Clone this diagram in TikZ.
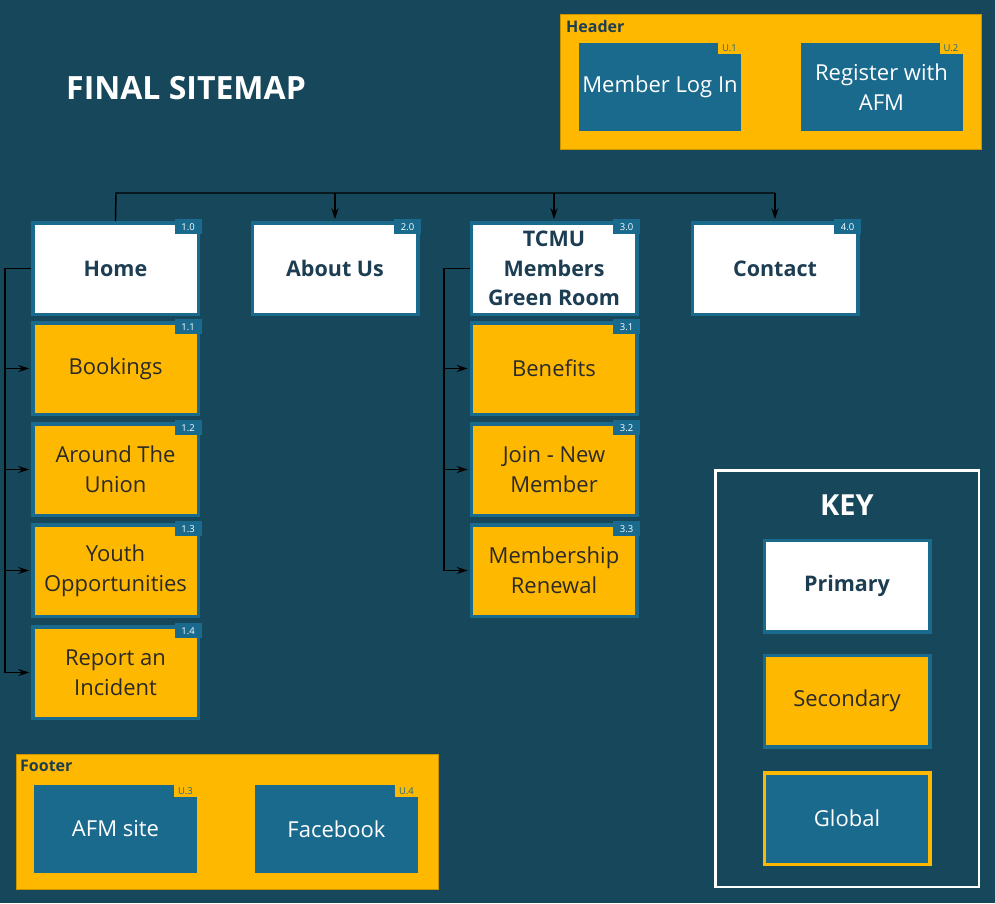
\documentclass[tikz,border=0pt]{standalone}
\usepackage{fontspec}
\setmainfont{Open Sans}
\usetikzlibrary{arrows.meta}
\definecolor{bgc}{HTML}{17475B}
\definecolor{nblue}{HTML}{1A6A8E}
\definecolor{ylw}{HTML}{FFB800}
\definecolor{tdark}{HTML}{1C3D52}
\definecolor{tsec}{HTML}{2A2A2A}
\tikzset{
  x=1pt, y=-1pt,
  basebox/.style={rectangle, inner sep=0pt, align=center, line width=3.5pt,
    minimum width=165.5pt, minimum height=91.5pt},
  prim/.style={basebox, fill=white, draw=nblue, text=tdark,
    font=\fontsize{21.5}{29.5}\selectfont\bfseries},
  sec/.style={basebox, fill=ylw, draw=nblue, text=tsec,
    font=\fontsize{22}{30}\selectfont},
  glob/.style={rectangle, inner sep=0pt, align=center, fill=nblue, text=white,
    minimum width=162pt, minimum height=88pt, font=\fontsize{22}{30}\selectfont},
  tagp/.style={rectangle, fill=nblue, text=white, inner sep=0pt,
    minimum width=27pt, minimum height=15pt, font=\fontsize{9.5}{10}\selectfont, anchor=north east},
  tagg/.style={rectangle, fill=ylw, text=nblue, inner sep=0pt,
    minimum width=23pt, minimum height=12pt, font=\fontsize{9.5}{10}\selectfont, anchor=north east},
  contbox/.style={rectangle, fill=ylw, draw=ylw!80!black, line width=0.8pt, inner sep=0pt},
  conn/.style={draw=black, line width=1.4pt},
  arr/.style={-{Stealth[length=11pt,width=7pt]}},
}
\begin{document}
\begin{tikzpicture}
\fill[bgc] (0,0) rectangle (995,903);
\useasboundingbox (0,0) rectangle (995,903);

% title
\node[anchor=west, inner sep=0pt, text=white, font=\fontsize{32}{38}\selectfont\bfseries] (title) at (66,88) {FINAL SITEMAP};

% header
\node[contbox, minimum width=421pt, minimum height=135pt] (header) at (770.5,81.5) {};
\node[anchor=west, inner sep=0pt, text=tdark, font=\fontsize{16}{19}\selectfont\bfseries] (headerlbl) at (566,26) {Header};
\node[glob] (login) at (660,87) {Member Log In};
\node[tagg] (logint) at ([yshift=1pt]login.north east) {U.1};
\node[glob] (register) at (881.5,87) {Register with\\AFM};
\node[tagg] (registert) at ([yshift=1pt]register.north east) {U.2};

% primary
\node[prim] (home) at (115.5,268.5) {Home};
\node[prim] (about) at (335,268.5) {About Us};
\node[prim] (tcmu) at (554,268.5) {TCMU\\Members\\Green Room};
\node[prim] (contact) at (775,268.5) {Contact};
\node[tagp] (homet) at ([shift={(1.75pt,1.75pt)}]home.north east) {1.0};
\node[tagp] (aboutt) at ([shift={(1.75pt,1.75pt)}]about.north east) {2.0};
\node[tagp] (tcmut) at ([shift={(1.75pt,1.75pt)}]tcmu.north east) {3.0};
\node[tagp] (contactt) at ([shift={(1.75pt,1.75pt)}]contact.north east) {4.0};

% secondary under home
\node[sec] (book) at (115.5,368.5) {Bookings};
\node[sec] (around) at (115.5,469.5) {Around The\\Union};
\node[sec] (youth) at (115.5,570.5) {Youth\\Opportunities};
\node[sec] (report) at (115.5,672.5) {Report an\\Incident};
\node[tagp] (bookt) at ([shift={(1.75pt,1.75pt)}]book.north east) {1.1};
\node[tagp] (aroundt) at ([shift={(1.75pt,1.75pt)}]around.north east) {1.2};
\node[tagp] (youtht) at ([shift={(1.75pt,1.75pt)}]youth.north east) {1.3};
\node[tagp] (reportt) at ([shift={(1.75pt,1.75pt)}]report.north east) {1.4};

% secondary under tcmu
\node[sec] (benefits) at (554,368.5) {Benefits};
\node[sec] (join) at (554,469.5) {Join - New\\Member};
\node[sec] (renew) at (554,570.5) {Membership\\Renewal};
\node[tagp] (benefitst) at ([shift={(1.75pt,1.75pt)}]benefits.north east) {3.1};
\node[tagp] (joint) at ([shift={(1.75pt,1.75pt)}]join.north east) {3.2};
\node[tagp] (renewt) at ([shift={(1.75pt,1.75pt)}]renew.north east) {3.3};

% top connectors
\coordinate (bus) at (116,193);
\draw[conn] (home.north) -- (bus) -- (bus -| contact.north);
\draw[conn,arr] (bus -| about.north) -- ([yshift=1.75pt]about.north);
\draw[conn,arr] (bus -| tcmu.north) -- ([yshift=1.75pt]tcmu.north);
\draw[conn,arr] (bus -| contact.north) -- ([yshift=1.75pt]contact.north);

% home children
\coordinate (hx) at (5,268.5);
\draw[conn] (home.west) -- (hx) -- (hx |- report.west);
\foreach \n in {book,around,youth,report}
  \draw[conn,arr] (hx |- \n.west) -- ([xshift=-1.75pt]\n.west);

% tcmu children
\coordinate (tx) at (444,268.5);
\draw[conn] (tcmu.west) -- (tx) -- (tx |- renew.west);
\foreach \n in {benefits,join,renew}
  \draw[conn,arr] (tx |- \n.west) -- ([xshift=-1.75pt]\n.west);

% footer
\node[contbox, minimum width=422pt, minimum height=135pt] (footer) at (227,821.5) {};
\node[anchor=west, inner sep=0pt, text=tdark, font=\fontsize{16}{19}\selectfont\bfseries] (footerlbl) at (20,766) {Footer};
\node[glob, minimum width=163pt] (afm) at (115.5,829) {AFM site};
\node[tagg] (afmt) at (afm.north east) {U.3};
\node[glob, minimum width=163pt] (fb) at (336.5,829) {Facebook};
\node[tagg] (fbt) at (fb.north east) {U.4};

% key
\node[rectangle, draw=white, line width=2.5pt, minimum width=263.5pt, minimum height=416.5pt, inner sep=0pt] (key) at (847,678.5) {};
\node[inner sep=0pt, text=white, font=\fontsize{29}{34}\selectfont\bfseries] (keylbl) at (847,505) {KEY};
\node[prim] (kprim) at (847,586) {Primary};
\node[sec] (ksec) at (847,701) {Secondary};
\node[basebox, fill=nblue, draw=ylw, text=white, font=\fontsize{22}{30}\selectfont] (kglob) at (847,818.5) {Global};
\end{tikzpicture}
\end{document}
